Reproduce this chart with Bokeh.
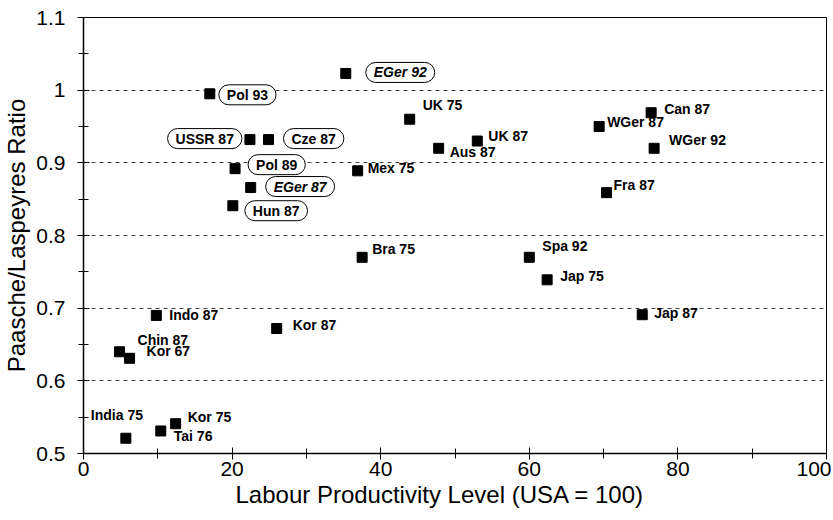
from bokeh.plotting import figure
from bokeh.models import ColumnDataSource, Range1d, FixedTicker, NumeralTickFormatter, Title
from bokeh.core.properties import value
from bokeh.embed import file_html
from bokeh.resources import INLINE

# ---- data ----
names = ["EGer 92", "Pol 93", "USSR 87", "Cze 87", "Pol 89", "EGer 87", "Hun 87",
         "Mex 75", "UK 75", "Aus 87", "UK 87", "WGer 87", "Can 87", "WGer 92",
         "Fra 87", "Bra 75", "Spa 92", "Jap 75", "Jap 87", "Indo 87", "Kor 87",
         "Chin 87", "Kor 67", "India 75", "Tai 76", "Kor 75"]
productivity = [35.3, 17.0, 22.4, 24.9, 20.4, 22.5, 20.1,
                36.9, 43.9, 47.8, 53.0, 69.4, 76.4, 76.8,
                70.4, 37.5, 60.0, 62.4, 75.2, 9.8, 26.0,
                4.85, 6.2, 5.7, 10.4, 12.4]
ratio = [1.023, 0.995, 0.932, 0.932, 0.892, 0.866, 0.841,
         0.889, 0.960, 0.920, 0.930, 0.950, 0.969, 0.920,
         0.859, 0.770, 0.770, 0.739, 0.691, 0.690, 0.672,
         0.640, 0.631, 0.521, 0.531, 0.541]
boxed_names = ["EGer 92", "Pol 93", "USSR 87", "Cze 87", "Pol 89", "EGer 87", "Hun 87"]
x_ticks = [0, 20, 40, 60, 80, 100]
x_minor = [10, 30, 50, 70, 90]
y_ticks = [0.5, 0.6, 0.7, 0.8, 0.9, 1.0, 1.1]
y_minor = [0.55, 0.65, 0.75, 0.85, 0.95, 1.05]
x_title = "Labour Productivity Level (USA = 100)"
y_title = "Paasche/Laspeyres Ratio"

# ---- label styling (screen-pixel offsets, alignment) ----
label_style = {
    "EGer 92": (20, -1, "left"), "Pol 93": (9, 1, "left"), "USSR 87": (-8, -1, "right"),
    "Cze 87": (15, -1, "left"), "Pol 89": (13, -4, "left"), "EGer 87": (15, -1, "left"),
    "Hun 87": (12, 5, "left"),
    "Mex 75": (10, -3, "left"), "UK 75": (13, -14, "left"), "Aus 87": (11, 4, "left"),
    "UK 87": (11, -5, "left"), "WGer 87": (8, -5, "left"), "Can 87": (13, -4, "left"),
    "WGer 92": (15, -8, "left"), "Fra 87": (7, -8, "left"), "Bra 75": (10, -8, "left"),
    "Spa 92": (13, -11, "left"), "Jap 75": (13, -4, "left"), "Jap 87": (12, -2, "left"),
    "Indo 87": (13, 0, "left"), "Kor 87": (16, -4, "left"), "Chin 87": (18, -12, "left"),
    "Kor 67": (17, -7, "left"), "India 75": (-35, -23, "left"), "Tai 76": (13, 5, "left"),
    "Kor 75": (12, -7, "left"),
}

FONT = "Liberation Sans"

def build(sel):
    d = {"x": [], "y": [], "t": [], "xo": [], "yo": [], "al": [], "st": []}
    for n, xv, yv in zip(names, productivity, ratio):
        if sel(n):
            xo, yo, al = label_style[n]
            d["x"].append(xv); d["y"].append(yv); d["t"].append(n)
            d["xo"].append(xo); d["yo"].append(yo); d["al"].append(al)
            d["st"].append("bold italic" if n.startswith("EGer") else "bold")
    return ColumnDataSource(d)

p = figure(width=823, height=511, frame_width=743, frame_height=436,
           x_range=Range1d(0, 100), y_range=Range1d(0.5, 1.1),
           output_backend="svg", toolbar_location=None,
           min_border_left=75, min_border_top=17, min_border_right=5,
           min_border_bottom=58)
p.background_fill_color = "white"
p.border_fill_color = "white"
p.outline_line_color = "black"
p.outline_line_width = 1

# axes
for ax in (p.xaxis[0], p.yaxis[0]):
    ax.axis_line_color = "black"
    ax.axis_line_width = 1.5
    ax.major_tick_in = 6
    ax.major_tick_out = 6
    ax.minor_tick_in = 5
    ax.minor_tick_out = 5
    ax.major_tick_line_color = "black"
    ax.minor_tick_line_color = "black"
    ax.major_label_text_font = FONT
    ax.major_label_text_font_size = "21px"
    ax.major_label_text_color = "black"

p.xaxis.ticker = FixedTicker(ticks=x_ticks, minor_ticks=x_minor)
p.yaxis.ticker = FixedTicker(ticks=y_ticks, minor_ticks=y_minor)
p.yaxis.formatter = NumeralTickFormatter(format="0.[0]")
p.xaxis.major_label_standoff = 2
p.yaxis.major_label_standoff = 12

p.yaxis.axis_label = y_title
p.yaxis.axis_label_text_font = FONT
p.yaxis.axis_label_text_font_size = "24px"
p.yaxis.axis_label_text_font_style = "normal"
p.yaxis.axis_label_text_color = "black"
p.yaxis.axis_label_standoff = 3

p.add_layout(Title(text=x_title, align="left", offset=152, standoff=0,
                   text_font=FONT, text_font_size="24px", text_font_style="normal",
                   text_color="black"), "below")

p.xgrid.visible = False
p.ygrid.grid_line_color = "#444444"
p.ygrid.grid_line_dash = "4 4"
p.ygrid.grid_line_width = 1

# markers
pts = ColumnDataSource(dict(x=productivity, y=ratio))
p.scatter("x", "y", source=pts, marker="square", size=10,
          fill_color="black", line_color="black")

# plain labels
plain = build(lambda n: n not in boxed_names)
p.text("x", "y", text="t", source=plain, x_offset="xo", y_offset="yo",
       text_align="al", text_baseline="middle", text_font=value(FONT),
       text_font_size="14px", text_color="black", text_font_style="st")

# boxed labels
boxed = build(lambda n: n in boxed_names)
p.text("x", "y", text="t", source=boxed, x_offset="xo", y_offset="yo",
       text_align="al", text_baseline="middle", text_font=value(FONT),
       text_font_size="14px", text_color="black", text_font_style="st",
       background_fill_color="white", border_line_color="black",
       border_line_width=1, padding=(8, 2), border_radius=10)

open("out.html", "w").write(file_html(p, INLINE))
